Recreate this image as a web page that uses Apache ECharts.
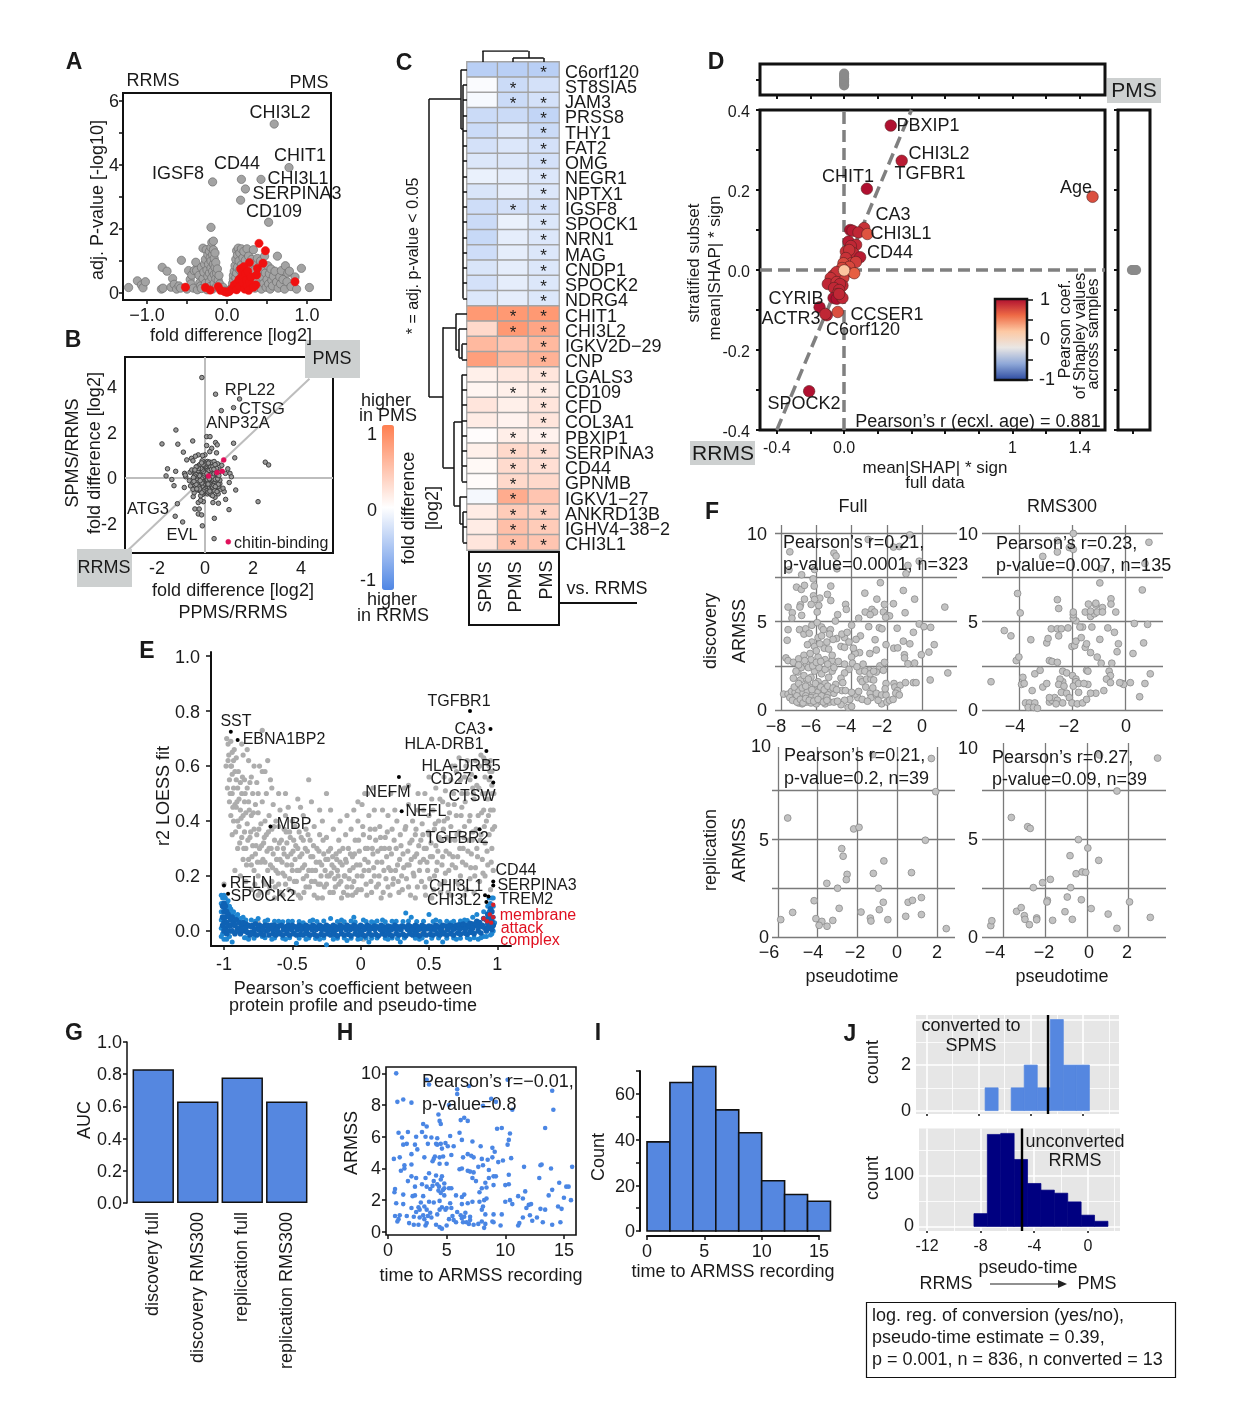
<!DOCTYPE html>
<html><head><meta charset="utf-8">
<style>html,body{margin:0;padding:0;background:#fff}#c{width:1240px;height:1406px}</style>
<script src="https://cdn.jsdelivr.net/npm/echarts@6/dist/echarts.min.js"></script></head>
<body><div id="c"></div>
<script>
// ---------- DATA ----------
const aGrey=[.59,5.28,.775,3.92,.425,3.55,.18,3.55,-.18,3.47,.23,3.25,.17,2.9,.52,2.21,-.2,2.05,
-1.23,.17,-1.12,.38,-1.07,.25,-1.05,.16,-1.02,.35,-.82,.12,-.81,.8,-.8,.15,-.75,.68,-.7,.18,-.68,.45,-.66,.27,-.63,.12,-.6,.22,-.58,.15,-.57,1.02,-.5,.12,-.48,.7,-.46,.42,-.45,.28,-.44,.56,-.42,.15,-.41,.7,-.39,.96,-.38,.7,-.37,.1,-.35,.55,-.34,.32,-.33,.22,-.32,.14,-.32,.8,-.3,1.4,-.3,.45,-.29,.65,-.28,.9,-.27,1.05,-.27,.3,-.26,1.35,-.25,.1,-.25,.72,-.24,.52,-.24,1.2,-.23,.9,-.22,1.3,-.22,.35,-.22,.62,-.21,1.1,-.21,.2,-.2,.78,-.2,1,-.2,1.42,-.19,.48,-.19,1.58,-.18,1.2,-.18,.68,-.18,.12,-.17,.9,-.17,1.35,-.17,1.62,-.16,.58,-.16,1.08,-.16,.3,-.15,.8,-.15,1.25,-.14,.45,-.14,.95,-.13,.62,-.13,.2,-.12,.75,-.11,.4,-.1,.55,-.09,.28,-.08,.15,-.06,.1,-.05,.18,-.03,.06,-.01,.04,.02,.05,.04,.1,.06,.16,.07,.3,.08,.42,.08,.55,.09,.68,.1,.85,.1,.22,.11,1.05,.11,.48,.12,.62,.12,1.32,.13,.8,.13,1.18,.14,1.4,.14,.3,.15,1,.16,.72,.16,1.25,.17,.45,.18,1.38,.18,.88,.19,.6,.2,1.1,.2,.2,.21,1.3,.22,.78,.23,1.02,.24,.4,.25,1.38,.26,.62,.27,1.15,.28,.22,.29,.85,.3,.5,.31,1.05,.32,.3,.33,1.35,.34,.7,.35,.15,.36,.95,.37,.42,.38,1.08,.39,.6,.4,.25,.41,.85,.42,1.0,.43,.12,.44,.5,.45,.72,.46,.3,.47,1.15,.48,.62,.49,.18,.5,.42,.51,.85,.52,.28,.53,.6,.54,.12,.55,.75,.56,.4,.57,.22,.58,.52,.6,.68,.62,.34,.63,1.15,.64,.15,.66,.5,.67,.28,.68,.7,.7,.42,.72,.12,.73,.85,.75,.35,.76,.62,.78,.68,.8,.2,.85,.5,.87,.12,.93,.77,1.03,.17];
const aRed=[.4,1.55,.48,1.32,.45,.93,.28,.95,.38,.77,.37,.56,.85,.35,-.52,.18,-.27,.17,-.21,.09,-.11,.2,-.08,.08,-.03,.04,0,.02,.03,.05,.06,.12,.09,.25,.12,.1,.13,.32,.15,.42,.16,.2,.17,.75,.19,.55,.2,.32,.21,.82,.22,.12,.23,.6,.24,.4,.25,.22,.26,.68,.27,.08,.28,.35,.3,.5,.36,.25,.33,.18];
const bGrey=[-.13,4.4,.44,3.67,1.44,3.46,1.19,3.08,.68,2.95,-1.21,2.1,-.51,1.62,-1.79,1.49,-1.13,1.48,-.9,1.13,1.19,1.52,.07,1.81,.21,1.81,.44,1.55,.51,1.45,.07,1.42,.28,1.3,.2,1.15,.48,1.1,1.24,.88,2.51,.69,2.65,.57,2.21,-1.04,1.28,-.53,-1.56,.4,-1.22,.29,-1.62,.09,-1.38,-.07,-1.29,-.34,-.86,-.42,-1.15,-1.13,-1.24,-1.68,-.93,-1.93,-.11,-2.1,.39,-1.77,.38,-2.66,1,-1.39,.86,-.94,.56,-1.11,.33,-1.08,1.01,-.2,1.04,.2,1.1,.05,-.49,-.82,-.42,-1.36,-.24,-1.36,-.28,-1.58,-.14,-1.62,-.07,-1.04,-.28,-1.08,-.18,-.98,-.76,.79,-.56,.86,-.5,.75,-.28,1.01,-.4,.95,0,1.01,-.1,.98,-.85,.2,-.8,.05,-.82,.12,-.65,-.12,-.6,-.35,-.62,.25,-.55,.35,.85,.2,.95,.4,.7,.55,.65,-.5,.8,-.6,.75,-.45,.42,-.85,.55,-.7,.28,-.75,
0,0,.05,.1,-.05,.08,.1,-.05,-.1,-.1,.15,.2,-.15,.22,.2,.05,-.2,.02,.25,-.15,-.25,-.18,.3,.15,-.3,.12,.35,.3,-.35,.05,.4,0,-.4,-.1,.45,.25,-.45,.2,.5,.1,-.5,-.2,.55,.05,.6,.35,.05,.35,-.05,.4,.1,.45,-.1,.5,.15,.55,-.15,.6,.2,.4,-.2,.45,.25,.5,-.25,.55,.3,.6,-.3,.4,.35,.55,-.35,.35,.4,.45,.05,.65,-.05,.7,.1,.72,-.12,.75,.18,.7,.28,.68,.38,.72,.52,.62,.48,.42,.58,.25,.05,-.3,-.05,-.35,.1,-.4,-.1,-.45,.15,-.5,-.15,-.3,.2,-.35,-.2,-.4,.25,-.45,-.25,-.55,.3,-.3,-.3,-.5,.35,-.4,-.35,-.3,.4,-.55,-.4,-.42,.05,-.6,-.05,-.65,.1,-.7,-.1,-.72,.15,-.62,-.18,-.78,.25,-.72,.32,-.78,.45,-.3,.55,-.38,.5,-.6,.62,-.25,-.45,-.65,-.5,-.5,.02,.2,-.02,-.2,.12,.1,-.12,.12,.18,-.08,-.18,-.1,.28,.02,-.28,.08,.32,-.05,-.32,-.02,.38,.12,.42,-.2,.48,-.1,-.38,-.22,-.42,.28,.08,.55,.62,-.1,.55,-.28,.22,.28,-.22,.3,.3,.42,-.28,.32,.12,.28,-.08,.25,.02,-.15,.08,-.22,-.02,.2,.16,-.28,-.14,-.32,
.03,.15,-.08,.03,.14,.02,-.14,-.04,.23,.12,-.23,.1,.33,.05,-.33,-.1,.38,.18,-.38,.15,.43,-.06,-.43,.08,.48,.18,-.48,.02,.53,-.04,.58,.1,.03,.25,-.03,.18,.07,.2,-.07,.28,.12,.38,-.12,.35,.17,.33,-.17,.42,.22,.48,-.22,.58,.27,.38,-.27,.42,.33,.5,-.33,.5,.37,.38,-.37,.48,.42,.58,-.42,.35,.03,.5,-.03,.55,.08,.62,-.08,.58,.14,.65,-.14,.66,.02,-.22,-.03,-.25,.07,-.3,-.07,-.3,.12,-.36,-.12,-.38,.17,-.43,-.17,-.22,.22,-.28,-.22,-.3,.27,-.36,-.27,-.38,.32,-.4,-.33,-.22,.37,-.33,-.37,-.28,.43,-.38,-.46,-.15,.03,-.48,-.03,-.52,.08,-.56,-.08,-.58,.13,-.62,-.13,-.65,.2,-.58,-.22,-.48,-.34,-.48,.1,-.08,-.1,-.18,.13,-.27,-.13,-.22,.18,-.04,-.2,-.12];
const bPink=[.97,-2.8,.78,.79,.72,.29,.5,.24,.15,.08];
const geneRows=['C6orf120','ST8SIA5','JAM3','PRSS8','THY1','FAT2','OMG','NEGR1','NPTX1','IGSF8','SPOCK1','NRN1','MAG','CNDP1','SPOCK2','NDRG4','CHIT1','CHI3L2','IGKV2D−29','CNP','LGALS3','CD109','CFD','COL3A1','PBXIP1','SERPINA3','CD44','GPNMB','IGKV1−27','ANKRD13B','IGHV4−38−2','CHI3L1'];
const heatCols=['SPMS','PPMS','PMS'];
const heatSPMS=[-.4,-.03,-.05,-.3,-.3,-.25,-.2,-.12,-.22,-.28,-.3,-.32,-.28,-.22,-.25,-.2,.8,.3,.55,.75,.12,.08,.2,.15,.02,.12,.05,.03,-.06,.15,.15,.2];
const heatPPMS=[-.4,-.3,-.3,-.3,-.2,-.2,-.2,-.15,-.15,-.25,-.12,-.15,-.15,-.15,-.15,-.15,.8,.8,.45,.55,.18,.12,.12,.1,.13,.3,.28,.3,.65,.4,.5,.5];
const heatPMS=[-.4,-.25,-.25,-.35,-.3,-.25,-.25,-.2,-.2,-.25,-.2,-.2,-.2,-.2,-.2,-.2,.8,.7,.55,.6,.2,.15,.2,.2,.1,.25,.25,.3,.45,.35,.4,.45];
const starPPMS=['ST8SIA5','JAM3','IGSF8','CHIT1','CHI3L2','CD109','PBXIP1','SERPINA3','CD44','GPNMB','IGKV1−27','ANKRD13B','IGHV4−38−2','CHI3L1'];
const noStarPMS=['ST8SIA5','GPNMB','IGKV1−27'];
// dendrogram segments: [height0,row0,height1,row1]
const rowTree=[[38,2.43,38,21.97],[38,2.43,6,2.43],[6,.5,6,4.4],[6,.5,0,.5],[6,4.4,4,4.4],[4,1.5,4,15.5],[4,1.5,0,1.5],[4,2.5,0,2.5],[4,3.5,0,3.5],[4,4.5,0,4.5],[4,5.5,0,5.5],[4,6.5,0,6.5],[4,7.5,0,7.5],[4,8.5,0,8.5],[4,9.5,0,9.5],[4,10.5,0,10.5],[4,11.5,0,11.5],[4,12.5,0,12.5],[4,13.5,0,13.5],[4,14.5,0,14.5],[4,15.5,0,15.5],[38,21.97,24,21.97],[24,17.4,24,26.6],[24,17.4,11,17.4],[11,16.5,11,18.9],[11,16.5,0,16.5],[11,18.9,8,18.9],[8,17.5,8,19.4],[8,17.5,0,17.5],[8,19.4,5,19.4],[5,18.5,5,19.5],[5,18.5,0,18.5],[5,19.5,0,19.5],[24,26.6,13,26.6],[13,23.6,13,29.1],[13,23.6,5,23.6],[5,20.5,5,26.5],[5,20.5,0,20.5],[5,21.5,0,21.5],[5,22.5,0,22.5],[5,23.5,0,23.5],[5,24.5,0,24.5],[5,25.5,0,25.5],[5,26.5,0,26.5],[5,27.5,0,27.5],[5,26.5,5,27.5],[13,29.1,7,29.1],[7,28.5,7,30.3],[7,28.5,0,28.5],[7,30.3,4,30.3],[4,29.5,4,31.5],[4,29.5,0,29.5],[4,30.5,0,30.5],[4,31.5,0,31.5]];
const colTree=[[.5,0,.5,11],[.5,11,2,11],[2,11,2,4],[1.5,4,2.5,4],[1.5,4,1.5,0],[2.5,4,2.5,0]];
const dPoints=[[.277,.361,1],[.342,.273,.95],[.135,.203,1],[1.476,.183,.72],[-.208,-.303,1],[.036,.1,1],[.05,.098,.95],[.119,.105,.85],[.085,.094,.9],[.138,.09,.7],[.026,.071,.95],[.071,.063,.9],[.04,.06,.9],[.01,.046,.85],[.055,.042,.9],[.03,.05,.85],[.095,.032,.95],[.01,.03,.85],[.045,.017,.8],[.07,.02,.8],[-.004,.017,.75],[.03,.008,.75],[-.012,.005,.75],[.015,-.005,.8],[.06,-.008,.65],[-.063,-.013,.85],[-.03,-.015,.85],[-.005,-.02,.8],[-.045,-.005,.85],[-.08,-.02,.85],[-.097,-.035,.9],[-.01,-.039,.9],[-.045,-.03,.85],[-.025,-.035,.9],[-.06,-.045,.9],[-.03,-.05,.9],[-.04,-.06,.85],[-.063,-.07,1],[-.044,-.072,1],[-.01,-.07,.9],[-.03,-.06,.9],[-.146,-.093,1],[-.103,-.113,.95],[-.112,-.11,.9],[-.038,-.105,.72],[0,-.001,.22]];
const dTop=[-1,-.8,-.6,-.4,-.2,0,.2,.4,.6,.8,1];
const dRight=[-1,-.6,-.2,.2,.6,1];
const eGrey=[-1,.17,-.98,.7,-.97,.68,-.97,.62,-.96,.55,-.96,.47,-.95,.69,-.95,.6,-.95,.42,-.94,.65,-.94,.57,-.94,.5,-.94,.35,-.93,.62,-.93,.52,-.93,.4,-.92,.58,-.92,.46,-.92,.22,-.91,.63,-.91,.55,-.91,.45,-.9,.52,-.9,.3,-.9,.4,-.89,.48,-.89,.38,-.88,.54,-.88,.44,-.88,.2,-.87,.5,-.87,.34,-.86,.64,-.86,.42,-.86,.26,-.85,.55,-.85,.47,-.85,.36,-.84,.43,-.84,.3,-.84,.18,-.83,.66,-.83,.52,-.83,.39,-.82,.62,-.82,.47,-.82,.26,-.81,.54,-.81,.34,-.8,.42,-.8,.24,-.8,.15,-.79,.5,-.79,.31,-.78,.37,-.78,.22,-.77,.46,-.77,.28,-.76,.54,-.76,.35,-.75,.43,-.75,.2,-.75,.13,-.74,.6,-.74,.3,-.73,.39,-.73,.25,-.72,.73,-.72,.58,-.72,.47,-.71,.32,-.71,.18,-.7,.4,-.7,.25,-.69,.5,-.69,.35,-.68,.22,-.68,.14,-.67,.42,-.67,.3,-.66,.55,-.66,.24,-.65,.37,-.65,.18,-.64,.46,-.64,.28,-.63,.33,-.63,.12,-.62,.4,-.62,.22,-.61,.3,-.6,.38,-.6,.17,-.59,.44,-.59,.26,-.58,.33,-.57,.21,-.57,.13,-.56,.37,-.56,.28,-.55,.42,-.55,.17,-.54,.32,-.54,.24,-.53,.45,-.52,.36,-.52,.19,-.51,.28,-.5,.4,-.5,.22,-.49,.33,-.49,.14,-.48,.38,-.48,.26,-.47,.18,-.46,.3,-.45,.36,-.45,.22,-.44,.45,-.44,.12,-.43,.28,-.42,.33,-.42,.19,-.41,.24,-.4,.37,-.4,.16,-.39,.29,-.38,.55,-.38,.22,-.37,.33,-.36,.18,-.35,.27,-.34,.38,-.34,.13,-.33,.22,-.32,.3,-.31,.17,-.3,.35,-.3,.25,-.29,.2,-.28,.4,-.28,.12,-.27,.28,-.26,.22,-.25,.34,-.25,.17,-.24,.26,-.23,.2,-.22,.44,-.22,.3,-.21,.24,-.2,.37,-.2,.14,-.19,.19,-.18,.28,-.17,.22,-.16,.33,-.16,.17,-.15,.4,-.15,.25,-.14,.12,-.13,.3,-.12,.2,-.11,.35,-.11,.26,-.1,.42,-.1,.16,-.09,.3,-.08,.22,-.07,.37,-.06,.27,-.06,.13,-.05,.44,-.05,.18,-.04,.33,-.03,.24,-.02,.4,-.02,.15,-.01,.29,.01,.46,.01,.2,.02,.35,.03,.26,.03,.5,.04,.17,.05,.3,.06,.42,.06,.22,.07,.37,.08,.14,.09,.28,.1,.44,.1,.2,.11,.33,.12,.25,.13,.17,.14,.38,.15,.3,.15,.12,.16,.44,.17,.22,.18,.34,.19,.27,.2,.42,.2,.16,.21,.3,.22,.22,.23,.37,.24,.19,.25,.44,.26,.3,.27,.24,.28,.14,.29,.35,.3,.2,.31,.28,.32,.52,.33,.38,.34,.24,.35,.46,.35,.16,.36,.32,.37,.26,.38,.4,.39,.2,.4,.35,.4,.12,.41,.28,.42,.44,.43,.22,.44,.33,.45,.39,.46,.26,.47,.5,.47,.16,.48,.3,.49,.22,.5,.42,.5,.35,.51,.27,.52,.12,.53,.44,.54,.37,.54,.2,.55,.31,.56,.25,.57,.4,.58,.48,.58,.17,.59,.33,.6,.27,.61,.56,.61,.4,.62,.21,.63,.34,.64,.46,.64,.14,.65,.28,.66,.38,.67,.6,.67,.24,.68,.5,.69,.33,.7,.18,.7,.42,.71,.27,.72,.36,.73,.55,.73,.2,.74,.45,.75,.3,.76,.38,.76,.13,.77,.6,.77,.24,.78,.5,.79,.33,.8,.42,.8,.19,.81,.57,.81,.28,.82,.36,.83,.48,.83,.14,.84,.62,.84,.23,.85,.53,.85,.3,.86,.42,.87,.6,.87,.18,.88,.35,.89,.5,.89,.26,.9,.63,.9,.44,.91,.56,.91,.32,.91,.2,.92,.4,.93,.61,.93,.48,.93,.24,.94,.55,.94,.35,.95,.44,.95,.62,.95,.15,.96,.5,.96,.3,.96,.58,.97,.44,.97,.22,.98,.38,-.75,.03,-.72,.0,-.6,-.005,-.28,.01,-.15,.03,.02,-.03,.36,-.01,.45,-.01,.6,.0,
-.985,.6,-.975,.52,-.965,.64,-.955,.5,-.945,.6,-.935,.45,-.925,.66,-.915,.36,-.905,.47,-.895,.58,-.885,.32,-.875,.41,-.865,.56,-.855,.3,-.845,.5,-.835,.24,-.825,.33,-.815,.44,-.805,.36,-.795,.27,-.785,.43,-.775,.17,-.765,.31,-.755,.25,-.745,.37,-.735,.14,-.725,.31,-.715,.26,-.705,.34,-.695,.17,-.685,.29,-.675,.36,-.665,.16,-.655,.3,-.645,.23,-.635,.38,-.625,.16,-.615,.26,-.605,.21,-.595,.32,-.585,.14,-.575,.25,-.565,.3,-.555,.2,-.545,.36,-.535,.27,-.525,.15,-.515,.34,-.505,.24,-.495,.29,-.485,.18,-.475,.31,-.465,.22,-.455,.13,-.445,.27,-.435,.34,-.425,.23,-.415,.14,-.405,.3,-.395,.2,-.385,.35,-.375,.16,-.365,.27,-.355,.22,-.345,.31,-.335,.18,-.325,.25,-.315,.12,-.305,.29,-.295,.17,-.285,.24,-.275,.33,-.265,.16,-.255,.26,-.245,.2,-.235,.29,-.225,.14,-.215,.21,-.205,.27,-.195,.23,-.185,.16,-.175,.26,-.165,.2,-.155,.29,-.145,.18,-.135,.24,-.125,.14,-.115,.2,-.105,.25,-.095,.13,-.085,.19,-.075,.28,-.065,.16,-.055,.23,-.045,.28,-.035,.14,-.025,.2,-.015,.33,-.005,.24,.005,.15,.015,.38,.025,.22,.035,.3,.045,.13,.055,.25,.065,.34,.075,.18,.085,.3,.095,.23,.105,.37,.115,.16,.125,.29,.135,.2,.145,.34,.155,.25,.165,.14,.175,.3,.185,.19,.195,.36,.205,.23,.215,.13,.225,.28,.235,.17,.245,.33,.255,.22,.265,.4,.275,.18,.285,.26,.295,.31,.305,.15,.315,.23,.325,.37,.335,.19,.345,.29,.355,.24,.365,.13,.375,.33,.385,.21,.395,.27,.405,.37,.415,.16,.425,.31,.435,.25,.445,.18,.455,.35,.465,.3,.475,.13,.485,.25,.495,.36,.505,.19,.515,.32,.525,.27,.535,.15,.545,.39,.555,.22,.565,.29,.575,.34,.585,.14,.595,.24,.605,.37,.615,.18,.625,.29,.635,.41,.645,.22,.655,.33,.665,.13,.675,.27,.685,.46,.695,.23,.705,.35,.715,.17,.725,.3,.735,.42,.745,.25,.755,.34,.765,.47,.775,.15,.785,.29,.795,.4,.805,.23,.815,.33,.825,.5,.835,.2,.845,.37,.855,.27,.865,.52,.875,.33,.885,.43,.895,.21,.905,.38,.915,.5,.925,.29,.935,.42,.945,.58,.955,.25,.965,.37,.975,.5,
.05,.5,.09,.52,-.02,.47,.22,.5,.35,.53,.42,.5,.5,.56,.55,.52,.62,.51,.66,.55,.7,.58,.74,.5,.76,.56,.78,.62,.8,.55,.82,.52,.86,.6,.88,.64,.91,.62,.94,.6,.96,.53,.72,.63,.69,.6,.6,.47,.65,.43,.52,.48,.46,.44,-.3,.44,-.36,.47,-.25,.5,-.42,.42,-.46,.48,-.6,.5,-.55,.5,-.65,.52,-.7,.58,-.68,.62,-.78,.6,-.8,.56,-.75,.5,-.87,.68];
const eBlueEdge=[-1.02,.13,-1.02,.1,-1.01,.12,-1,.13,-1.02,.07,-1.02,.04,-1.02,.01,-1.01,-.01,-1.02,-.02,-1,-.03,-.99,.12,-.98,.1,-.97,.11,-.98,-.03,-.96,.09,-.95,.08,-.96,-.02,-.94,-.04,-.93,.07,-.92,.05,-.9,.06,-.89,.04,-.86,.05,-.85,-.025,-.82,-.03,-.8,.04,-.75,.045,-.72,-.02,-.68,.04,-.65,-.03,-.6,.035,-.55,-.03,-.5,.035,-.47,-.045,-.42,.03,-.4,-.03,-.35,.04,-.3,-.03,-.25,-.05,-.22,.045,-.2,-.03,-.14,.04,-.1,-.035,-.05,.05,-.02,-.03,.02,.04,.06,-.04,.1,.03,.14,-.06,.16,.04,.2,-.03,.26,.035,.29,-.04,.33,.065,.37,.05,.43,-.03,.48,-.04,.5,.06,.55,.04,.6,-.04,.66,.03,.7,-.03,.76,.04,.8,-.03,.82,.05,.85,.06,.86,-.03,.9,.07,.92,-.02,.94,.12,.95,.1,.96,.12,.97,.12,.97,.09,.97,.05,.98,.03,.97,.0,.96,-.01,.95,-.015,.93,.09,.94,.07,
-.98,.085,-.96,.075,-.94,.065,-.91,.055,-.88,.045,-.84,.04,-.77,.035,-.7,.035,-.63,.035,-.57,.033,-.53,.035,-.45,.034,-.37,.035,-.32,.034,-.27,.036,-.17,.034,-.12,.033,-.07,.036,-.04,.032,.04,.034,.08,.033,.12,.036,.18,.033,.23,.035,.31,.034,.35,.036,.41,.034,.46,.035,.53,.034,.58,.034,.63,.035,.68,.035,.73,.036,.78,.038,-.84,-.025,-.78,-.027,-.7,-.025,-.63,-.026,-.57,-.027,-.52,-.025,-.45,-.027,-.38,-.026,-.33,-.028,-.27,-.026,-.17,-.027,-.12,-.026,-.07,-.027,0,-.028,.04,-.026,.08,-.027,.12,-.026,.18,-.027,.23,-.026,.27,-.028,.32,-.026,.4,-.027,.45,-.026,.52,-.027,.57,-.026,.63,-.027,.68,-.026,.73,-.027,.78,-.025,.83,-.025,.88,-.025,.9,-.02];
const eBlue=[-1.01,.09,-1,.1,-1,.07,-.99,.09,-.99,.05,-.98,.07,-1.01,.05,-1.01,.02,-1,.03,-1,.0,-.99,.01,-.98,.03,-.98,-.01,-.97,.06,-.97,.02,-.96,.05,-.96,.0,-.95,.04,-.95,.02,-.94,.05,-.94,.0,-.93,.03,-.92,.02,-.92,-.01,-.91,.04,-.9,.01,-.89,.03,-.88,-.01,-.87,.02,-.86,.03,-.85,0,-.84,.025,-.83,-.005,-.82,.02,-.81,-.015,-.8,.015,-.79,.02,-.78,-.01,-.77,.025,-.76,-.015,-.75,.01,-.74,.02,-.73,-.01,-.72,.015,-.71,-.015,-.7,.02,-.69,0,-.68,.02,-.67,-.015,-.66,.01,-.65,.02,-.64,-.01,-.63,.02,-.62,-.015,-.61,.01,-.6,.018,-.59,-.01,-.58,.02,-.57,-.015,-.56,.005,-.55,.015,-.54,-.01,-.53,.02,-.52,-.015,-.51,.01,-.5,.02,-.49,-.01,-.48,.015,-.47,-.015,-.46,.01,-.45,.02,-.44,-.012,-.43,.015,-.42,-.015,-.41,.008,-.4,.02,-.39,-.01,-.38,.015,-.37,-.015,-.36,.01,-.35,.02,-.34,-.012,-.33,.015,-.32,-.018,-.31,.01,-.3,.02,-.29,-.012,-.28,.015,-.27,-.015,-.26,.01,-.25,.02,-.24,-.01,-.23,.015,-.22,-.015,-.21,.008,-.2,.02,-.19,-.012,-.18,.015,-.17,-.018,-.16,.01,-.15,.02,-.14,-.01,-.13,.015,-.12,-.015,-.11,.01,-.1,.02,-.09,-.012,-.08,.015,-.07,-.018,-.06,.01,-.05,.02,-.04,-.01,-.03,.015,-.02,-.015,-.01,.01,0,.02,.01,-.012,.02,.015,.03,-.018,.04,.008,.05,.02,.06,-.01,.07,.015,.08,-.015,.09,.01,.1,.018,.11,-.012,.12,.015,.13,-.018,.14,.01,.15,.02,.16,-.01,.17,.015,.18,-.015,.19,.008,.2,.018,.21,-.012,.22,.015,.23,-.018,.24,.01,.25,.02,.26,-.01,.27,.015,.28,-.015,.29,.01,.3,.018,.31,-.012,.32,.015,.33,-.018,.34,.008,.35,.02,.36,-.01,.37,.015,.38,-.015,.39,.01,.4,.02,.41,-.012,.42,.015,.43,-.018,.44,.01,.45,.02,.46,-.01,.47,.015,.48,-.015,.49,.008,.5,.018,.51,-.012,.52,.015,.53,-.015,.54,.01,.55,.02,.56,-.01,.57,.015,.58,-.015,.59,.01,.6,.02,.61,-.01,.62,.018,.63,-.015,.64,.01,.65,.02,.66,-.01,.67,.018,.68,-.015,.69,.01,.7,.02,.71,-.008,.72,.022,.73,-.012,.74,.012,.75,.025,.76,-.008,.77,.02,.78,-.012,.79,.015,.8,.028,.81,-.005,.82,.025,.83,-.01,.84,.02,.85,.035,.86,0,.87,.03,.88,-.008,.89,.02,.9,.045,.91,.01,.92,.04,.92,.0,.93,.06,.93,.025,.94,.045,.94,.01,.95,.08,.95,.05,.95,.02,.96,.07,.96,.035,.96,.005,.97,.02,
-.9,.0,-.8,-.005,-.6,-.005,-.4,-.005,-.2,-.005,0,-.005,.2,-.005,.4,-.005,.6,-.005,.8,-.002,-.87,.005,-.84,.01,-.775,.005,-.745,.004,-.715,.005,-.675,.004,-.645,.006,-.615,.004,-.565,.005,-.535,.004,-.505,.005,-.465,.004,-.435,.005,-.395,.005,-.355,.004,-.325,.005,-.285,.004,-.255,.005,-.225,.004,-.175,.005,-.145,.005,-.105,.004,-.075,.005,-.035,.004,.025,.005,.065,.004,.105,.005,.145,.004,.175,.005,.225,.004,.265,.005,.295,.004,.345,.005,.375,.004,.425,.005,.465,.004,.515,.005,.545,.004,.585,.005,.635,.004,.675,.005,.725,.006,.765,.006,.82,.01,.86,.015,.89,.015];
const eComplement=[.9,.045,.925,.035,.955,.03,.945,.06,.97,.05,.97,.095];
const eBlack=[-.95,.725,-.9,.695,-.66,.38,-1,.165,-.97,.135,.28,.56,.3,.435,.8,.8,.95,.735,.92,.655,.95,.56,.97,.54,.84,.56,.87,.37,.97,.18,.97,.165,.91,.13,.935,.125,.92,.105];
const f1Pts=[-7.5,8.96,-7.55,7.94,-5,8.89,-4.88,8.72,-4.83,8,-6.1,7.96,-3.06,9.66,-1.63,9.23,-1.3,9.26,-.7,9.92,-.17,8.43,-.81,8.19,-.92,7.72,-6.83,7.66,-6.18,7.43,-7.12,6.96,-6.85,6.83,-6.67,7.06,-6.12,7.02,-5.18,7.02,-5.37,6.55,-5.18,6.2,-6.16,6.47,-5.8,6.34,-6.1,6.26,-6.67,6.28,-6.9,5.96,-6.93,5.83,-7.6,5.83,-7.36,5.51,-7.38,5.2,-6.83,5.36,-6.29,5.98,-5.86,5.92,-5.95,5.55,-4.79,5.4,-4.34,5.98,-4.3,5.7,-4.92,5.04,-3.25,6.62,-2.37,7.21,-1.07,6.77,-.43,6.28,-2.57,6.28,-2.14,5.98,-1.63,6.02,1.28,5.83,-3.23,5.55,-2.85,5.7,-2.7,5.55,-2.95,5.4,-2.2,5.55,-1.98,5.35,-1.85,5.33,-2.07,5.25,-3.6,5.2,-.97,5.51,-4,4.8,-3.03,4.72,-2.43,4.66,-2.28,4.6,-1.42,4.63,-.17,4.87,.1,4.72,.48,4.68,-.5,4.4,-1.07,3.9,-.7,3.75,.68,3.7,.38,3.28,-.05,3.13,-1.01,3.13,-1,2.95,-.81,2.62,-.43,2.66,-1.61,3.5,-1.39,3.52,-2.05,3.7,-2.67,3.98,-3.5,4.2,-3.75,4,-3.55,3.25,-3.8,3.2,-4,3,-2.97,3.2,-2.6,3.4,-2.4,2.5,-2.14,2.7,-7.72,2.95,-7.6,2.8,-7.3,2.7,-7,2.9,-6.7,3.1,-6.3,2.85,-5.9,3,-5.5,2.85,-5.1,2.8,-4.75,2.75,-4.4,2.6,-3.95,2.65,-7.6,4.55,-7.65,3.95,-6.95,4.55,-6.7,4.3,-6.6,4.6,-6.25,4.8,-5.95,4.95,-5.7,4.7,-5.6,4.55,-5.2,4.55,-5.25,4.3,-4.85,4.05,-4.4,4.1,-4.6,3.6,-4.4,3.55,-5.55,3.5,-5.3,3.45,-6.25,3.85,-6.1,3.6,-6,3.35,-5.9,4.1,-5.7,4.2,-6.4,4.35,-3,2.25,-2.45,2.3,-2.2,2.25,-3.55,2.2,-3.25,2.2,-4.15,2.3,-4.4,2.1,-4.6,1.8,-4.5,1.55,-4.55,1.1,-4.35,1.1,-3.5,1.75,-3.4,1.6,-3.15,1.75,-2.9,1.75,-2.75,1.7,-2.6,2.15,-2.05,1.5,-1.6,1.5,-1.55,1.3,-1.25,1.4,-1.4,1.1,-1.5,.95,-1.3,.85,-.95,1.55,-.5,1.55,-.35,1.55,.45,1.7,1.45,2.1,-2.95,.95,-2.9,.7,-2.6,.85,-2.6,.95,-2.3,.85,-2.05,.85,-2.3,.35,-2,.45,-1.85,.55,-1.65,.6,-3.65,.7,-3.4,.6,-3.8,.9,-3.6,1.05,-4,1,-4.1,.6,-4.4,.55,-4.6,.3,-4.2,.15,-4,.2,-7.85,.9,-7.6,.9,-7.4,1.05,-7.2,1,-7,1.1,-6.75,.95,-6.5,1.05,-6.2,.95,-5.9,1.05,-5.6,1.1,-5.3,.95,-5,.95,-7.5,.7,-7.2,.6,-7,.4,-6.8,.35,-6.55,.45,-6.3,.4,-6,.35,-5.75,.5,-5.5,.35,-5.25,.45,-5,.45,-4.8,.5,-7.3,1.8,-7.05,2.15,-6.9,1.7,-6.7,1.95,-6.5,1.55,-6.3,1.85,-6.1,2.2,-5.9,1.6,-5.7,2.05,-5.5,1.5,-5.3,1.85,-5.1,2.2,-4.9,1.45,-6.85,2.4,-6.55,2.6,-5.85,2.4,-5.5,2.3,-5.2,1.2,-6.15,1.3,-5.85,1.35,-6.6,.8,-6.3,.7,-6,.75,-5.7,.8,-5.4,.7,-7.1,.8,
-7.35,.55,-7.1,.45,-6.9,.6,-6.75,.4,-6.6,.65,-6.4,.55,-6.15,.5,-5.9,.6,-5.6,.45,-5.4,.55,-7.25,1.3,-7,1.5,-6.8,1.25,-6.6,1.35,-6.45,1.75,-6.25,1.15,-6.05,1.5,-5.75,1.3,-5.55,1.15,-5.35,1.35,-5.05,1.25,-4.85,1.15,-6.65,2.8,-6.45,2.4,-6.2,2.5,-6,2.7,-5.75,2.75,-5.35,2.6,-5,2.4,-5.1,3.1,-6.5,3.7,-6.35,3.2,-5.8,3.75,-5.4,3.85,-5.05,4,-4.55,4.3,-4.25,4.4,-4.15,3.85,-3.9,3.5,-7,2.55,-7.15,2.2,-3.7,2.45,-3.35,2.6,-2.95,2.05,-2.75,2.2,-3.2,1.3,-2.8,1.25,-2.5,.55,-2.1,1.2,-3.1,.5];
const f2Pts=[-5.05,1.6,-4.55,4.5,-4.3,4.2,-4.1,2.8,-4,3,-3.85,1.85,-3.9,1.45,-3.8,1.5,-4.05,6.6,-3.95,5.5,-3.5,1.1,-3.75,.4,-3.6,.4,-3.4,.4,-3.65,.15,-3.45,.15,-3.3,.1,-3.55,3.98,-3.4,2.05,-3.2,2.25,-3.1,1.3,-2.95,1.5,-2.85,.45,-2.75,.55,-2.65,.7,-2.55,.55,-2.95,3.8,-2.9,4.05,-2.78,4.6,-2.55,4.6,-2.4,4.6,-2.5,4.2,-2.85,2.8,-2.75,2.75,-2.55,2.7,-2.35,2.2,-2.2,2.1,-2.35,1.6,-2.45,1.75,-2.5,1.45,-2.3,1.35,-2.4,1,-2.2,.95,-2.1,.7,-2,.4,-1.8,.35,-2.35,.4,-2.6,.35,-2.85,.7,-1.6,.4,-1.45,.6,-1.98,1.95,-1.85,1.75,-1.85,1.6,-1.95,1.35,-1.75,1,-1.75,1.5,-2,3.6,-1.9,3.65,-2.15,4.65,-1.85,3.9,-1.65,4.1,-1.5,3.55,-1.3,3.25,-1.05,3,-.9,2.65,-.5,2.65,-.6,2.2,-.55,1.95,-.7,1.75,-.55,1.55,-.8,1.1,-1.1,.95,-1.3,.95,-1.4,1.45,-1.55,1.5,-1.45,2.25,-1.4,2.2,-1.85,5.05,-1.95,5.2,-1.95,5.4,-1.95,5.55,-1.5,5.55,-1.3,5.3,-1.15,5.45,-1.3,5.6,-1.05,5.55,-1.1,5.95,-.85,5.8,-.85,5.55,-1.38,6,-1.1,6.05,-.53,6.3,-.53,6,-.35,5.55,-.65,4.65,-.4,4.4,-.25,3.75,-.3,3.3,-.95,4,-1.45,3.75,-1.6,4.7,-1.25,4.7,-1.7,4.7,-2.55,6.25,-2.5,5.75,.35,4.9,.85,4.85,.7,3.8,.3,3.2,.65,6.8,.95,2.05,.75,1.5,-.1,1.5,.55,.75,-.05,1.45,.2,1.55,-.2,1.55,.75,8.3,-.9,8,-.95,7.2,.9,9.5,-2.55,9.6,-2.1,9.2,-1.95,10,-1.95,9.1,-2.55,8.95,-3.1,8.7];
const f3Pts=[-5.86,.89,-5.51,6.1,-5.26,1.26,-4.18,1.86,-4.09,.94,-3.79,.8,-3.93,.6,-3.53,.55,-3.24,.85,-3.54,2.75,-3,2.5,-2.92,1.47,-2.79,4.53,-2.72,4.14,-2.52,3.21,-2.56,2.94,-2.19,5.54,-1.92,5.62,-1.82,1.28,-1.35,.97,-1.32,.82,-1.2,3.26,-.94,2.5,-.9,1.4,-.7,1.78,-.67,3.9,-.47,.89,-1.24,9.35,.43,1.06,.55,1.78,.77,1.88,.72,3.3,1.22,2.02,1.22,1.15,1.42,4.96,1.72,9.15,1.94,7.45,2.47,.43];
const f4Pts=[-4.58,.58,-4.53,.83,-3.6,6.1,-3.35,1.31,-3.13,1.5,-2.98,1.09,-2.95,.9,-2.74,.63,-2.82,5.63,-2.7,5.54,-2.55,2.52,-2.39,.97,-2.39,.88,-2.11,2.77,-1.88,1.87,-1.9,1.79,-1.74,2.94,-1.63,.85,-1.04,1.29,-.93,2.04,-.8,4.15,-.77,2.52,-.69,.9,-.51,3.23,-.4,4.97,-.22,3.32,-.26,1.9,-.05,3.3,.05,4.54,.21,1.45,.57,3.91,.61,9.29,1.02,1.17,1.44,7.45,1.44,.44,2.04,1.79,3.03,1,3.38,9.13];
const gCats=['discovery full','discovery RMS300','replication full','replication RMS300'];
const gAUC=[.83,.63,.78,.63];
const hPts=[.7,10,3.3,9.6,3.5,9.3,5.9,9,5.9,8.7,6.9,9.2,10.2,9.6,14,8.9,.8,8.2,1.3,8.35,2,8.15,5.2,8,8.1,7.95,8.8,8.4,9.2,8.2,14.1,7.7,10.6,7.7,4.3,7.4,4.4,7,4.5,6.8,6.2,7.05,6.5,7.2,6.8,7,3,6.8,3.3,6.65,9.3,6.5,9.7,6.55,13.4,6.55,.9,6.25,1.7,6.3,2.9,6.3,3.2,6,2.4,6,3.7,5.95,4.2,5.9,5.3,6.05,6.1,6.25,6.3,5.8,10.4,6.2,10.3,5.8,1.2,5.95,1.3,5.5,1.6,5.55,3.4,5.55,4.1,5.55,4.5,5.55,4.9,5.6,5.1,5.4,5.6,5.4,7.2,5.7,7.9,5.4,8.9,5.3,9.1,5.05,10.2,5.5,2.5,5.2,1,4.7,.5,4.6,2,4.9,2,4.25,3.1,4.7,4,4.75,4.4,4.7,4.7,4.75,5.4,4.85,5,4.3,4.4,4.3,3.8,4.45,6.8,4.9,7.1,4.8,7.3,4.7,8,4.6,8.5,4.55,8.9,4.7,9.4,4.4,9.8,4.5,10.5,4.65,1.4,4.2,1.4,4,1.1,3.85,2.4,3.4,1.7,3.2,2,3.5,3.5,3.7,4.1,3.55,4.6,3.5,6.1,3.95,6.3,4,6.8,3.85,7,3.8,7.2,3.4,7.3,3.75,8.1,4.2,8.6,3.9,8.6,3.4,9,3.5,9.2,3.5,10.3,3.6,11.6,4.1,13,4.2,13.1,4.25,13.9,4,15.7,4.1,12.9,3.4,14.6,3.1,2.3,2.85,2.9,3,3.3,2.85,3.8,2.9,4.2,3,4.3,2.6,4.7,2.65,4.5,3.3,5.2,2.75,5.4,2.75,6.5,2.35,8,2.75,8.4,2.8,9,2.95,10,2.95,10.3,3,15.2,2.85,15.4,2.85,14,2.65,13.7,2.3,11.7,2.55,.6,2.7,.55,2.5,1.3,2.35,2.3,2.3,2.1,2.25,3,2.25,4.8,2.3,5.8,2.3,6.3,2.2,.7,1.8,1.3,1.75,2,1.5,2.8,1.85,3.1,1.6,3.5,1.9,3.9,1.85,4.4,1.95,5,1.5,5.3,1.8,5.4,1.5,6.3,1.75,6.8,1.8,7.2,1.9,8.2,2,8.4,2.1,10,1.9,10.4,2,10.6,1.75,11.1,2.25,11.5,2.1,12,1.7,12.2,1.75,13,1.45,13.4,1.4,14.5,1.6,15,2.15,15.6,2,14.8,1.45,2.7,1.4,2.4,1.25,3,1.05,3.4,1,4.2,1.1,5.5,1,7,.95,8.3,1.1,9,1.1,9.7,1.1,11.5,.9,11.8,1.5,12.1,1.05,12.7,.9,.6,1,1,1.05,1.6,1,2.2,.95,2.7,.9,3.1,.8,3.7,.9,5.2,.8,5.6,.75,6.3,.85,6.5,.95,7,.75,8,.65,8.9,.65,12.3,.7,13.2,.6,14,.45,14.7,.6,11.2,.55,11.1,.4,.8,.65,1.8,.55,2.2,.45,2.6,.45,3.2,.4,4.1,.45,4.4,.3,4.6,.2,5,.4,6.4,.6,6.7,.6,7.3,.45,7.7,.5,8.2,.25,8.3,.5,9,.6,9.6,.4,
2.6,1.55,3.3,1.4,3.6,1.2,4.6,1.55,4.9,1.4,5.9,1.25,6.6,1.2,6.2,1.05,7.8,1.9,8.1,1.6,8,1.4,.9,.8,3.3,.55,5.8,.6,6.9,.5,4.4,1.4,3.6,2.7,3.9,3.2,4.35,2.85,4.8,2.75,4.5,2.45,3.2,3.4,3.9,4.6,4.8,3.05,4.2,5.5,4.6,5.25,2.3,5.5,7.5,3.2,7.8,2.5,8.3,3.1,6.4,4.7,7.7,4.1];
const iEdges=[0,2,4,6,8,10,12,14,16];
const iCounts=[39,65,72,53,43,22,16,13];
const j1Edges=[-7.5,-6.5,-5.5,-4.5,-3.5,-2.5,-1.5,-.5,.5];
const j1Counts=[1,0,1,2,1,4,2,2];
const j2Edges=[-8.5,-7.5,-6.5,-5.5,-4.5,-3.5,-2.5,-1.5,-.5,.5,1.5];
const j2Counts=[25,180,182,131,84,71,65,48,22,10];

// ---------- HELPERS ----------
const FF='"Liberation Sans",Arial,sans-serif', INK='#1a1a1a';
const pairs=a=>{const o=[];for(let i=0;i<a.length;i+=2)o.push([a[i],a[i+1]]);return o};
const grid=[],xAxis=[],yAxis=[],series=[],els=[];
const minus=s=>String(s).replace('-','−');
function ax(o,i){const lab={show:!!o.labels,customValues:o.labels||[],formatter:o.fmt||(v=>String(v)),fontSize:o.fs||18,color:INK,fontFamily:FF,margin:o.m||5};
 if(o.down){lab.verticalAlign='top';lab.lineHeight=o.down*2}
 return {type:'value',gridIndex:i,min:o.min,max:o.max,inverse:!!o.inv,offset:o.off||0,
 axisLine:{show:!!o.line,onZero:false,lineStyle:{color:'#111',width:o.lw||2}},
 axisTick:{show:!!o.ticks,customValues:o.ticks||[],length:o.tl||4,lineStyle:{color:'#111',width:o.tw||1.5}},
 axisLabel:lab,splitLine:{show:false},splitArea:{show:false}}}
function panel(b,xo,yo,g){const i=grid.length;
 grid.push(Object.assign({left:b[0],top:b[1],width:b[2]-b[0],height:b[3]-b[1],containLabel:false,show:false},g||{}));
 xAxis.push(ax(xo,i));yAxis.push(ax(yo,i));return i}
const frame=w=>({show:true,borderColor:'#111',borderWidth:w||2,backgroundColor:'transparent'});
function dots(i,data,size,color,border,bw,z){series.push({type:'scatter',xAxisIndex:i,yAxisIndex:i,data,symbolSize:size,z:z||2,silent:true,animation:false,
 itemStyle:{color,opacity:1,borderColor:border||color,borderWidth:border?(bw||.8):0}})}
function rules(i,lines,style,z){series.push({type:'scatter',xAxisIndex:i,yAxisIndex:i,data:[],silent:true,
 markLine:{silent:true,symbol:'none',animation:false,z:z||1,label:{show:false},lineStyle:style,data:lines}})}
const vLines=a=>a.map(v=>({xAxis:v})), hLines=a=>a.map(v=>({yAxis:v}));
function hist(i,edges,counts,fill,stroke){const d=counts.map((c,k)=>[edges[k],edges[k+1],c]).filter(r=>r[2]>0);
 series.push({type:'custom',xAxisIndex:i,yAxisIndex:i,data:d,z:2,silent:true,clip:false,encode:{x:[0,1],y:2},
  renderItem:(p,api)=>{const a=api.coord([api.value(0),0]),b=api.coord([api.value(1),api.value(2)]);
   return {type:'rect',shape:{x:a[0],y:b[1],width:b[0]-a[0],height:a[1]-b[1]},style:{fill,stroke:stroke||fill,lineWidth:stroke?1.6:.7}}}})}
function T(x,y,s,size,o){o=o||{};els.push({type:'text',x:x+(o.r?1:0),y:y+(o.r?0:1.5),rotation:o.r?Math.PI/2:0,z:50,silent:true,
 style:{text:s,fill:o.c||INK,font:(o.b?'bold ':'')+(size||18)+'px '+FF,align:o.a||'center',verticalAlign:'middle'}})}
function R(x,y,w,h,fill,stroke,lw,z){els.push({type:'rect',z:z||40,silent:true,shape:{x,y,width:w,height:h},style:{fill:fill||'transparent',stroke:stroke||'none',lineWidth:lw||0}})}
function L(x1,y1,x2,y2,lw,c){els.push({type:'line',z:45,silent:true,shape:{x1,y1,x2,y2},style:{stroke:c||'#111',lineWidth:lw||1.5}})}
[['A',74,61],['B',73,339],['C',404,62],['D',716,61],['E',147,650],['F',712,511],['G',74,1032],['H',345,1032],['I',598,1032],['J',850,1033]].forEach(p=>T(p[1],p[2],p[0],23,{b:1}));

// ---------- A ----------
const iA=panel([123,93,331,300],{min:-1.3,max:1.3,ticks:[-1,-.5,0,.5,1],labels:[-1,0,1],fmt:v=>minus(v.toFixed(1)),m:7},
 {min:-.22,max:6.25,ticks:[0,1,2,3,4,5,6],labels:[0,2,4,6],m:4,down:1.5},frame(2));
dots(iA,pairs(aGrey),8.3,'#a3a3a3','#6e6e6e',.7);dots(iA,pairs(aRed),8.3,'#f01010','#f01010',.5,3);
[['RRMS',153,80],['PMS',309,82],['CHI3L2',280,112],['CD44',237,163],['IGSF8',178,173],['CHIT1',300,155],['CHI3L1',298,178],['SERPINA3',297,193],['CD109',274,211]].forEach(p=>T(p[1],p[2],p[0]));
T(97,200,'adj. P-value [-log10]',18,{r:1});T(231,335,'fold difference [log2]');

// ---------- B ----------
const iB=panel([125,357,333,553],{min:-3.33,max:5.33,labels:[-2,0,2,4],m:7},{min:-3.29,max:5.3,labels:[-2,0,2,4],m:8,down:1.5},frame(2));
rules(iB,vLines([0]).concat(hLines([0])),{color:'#bdbdbd',width:2,type:'solid'});
rules(iB,[[{coord:[-3.33,-3.29]},{coord:[4.35,4.35]}]],{color:'#bdbdbd',width:2,type:'solid'});
dots(iB,pairs(bGrey),4.5,'#9a9a9a','#404040',1);dots(iB,pairs(bPink),5,'#e0105a','#e0105a',.5,3);
R(305,340,55,38,'#cdd0d0');T(332,358,'PMS');R(77,549,55,38,'#cdd0d0');T(104,567,'RRMS');
[['RPL22',250,389],['CTSG',262,408],['ANP32A',238,422],['ATG3',148,508],['EVL',182,534]].forEach(p=>T(p[1],p[2],p[0],16.5));
T(234,542,'chitin-binding',16,{a:'left'});
T(233,590,'fold difference [log2]');T(233,612,'PPMS/RRMS');
T(72,453,'SPMS/RRMS',18,{r:1});T(94,453,'fold difference [log2]',18,{r:1});

// ---------- C ----------
const iC=grid.length;
grid.push({left:467,top:62,width:92,height:488,show:false});
xAxis.push({type:'category',gridIndex:iC,data:heatCols,axisLine:{show:false},axisTick:{show:false},axisLabel:{show:false},splitLine:{show:false}});
yAxis.push({type:'category',gridIndex:iC,data:geneRows,inverse:true,position:'right',axisLine:{show:false},axisTick:{show:false},
 axisLabel:{interval:0,fontSize:18,fontFamily:FF,color:INK,margin:6,verticalAlign:'top',lineHeight:6},splitLine:{show:false}});
const heatData=[];
geneRows.forEach((g,r)=>{heatData.push([0,r,heatSPMS[r],'']);
 heatData.push([1,r,heatPPMS[r],starPPMS.includes(g)?'*':'']);
 heatData.push([2,r,heatPMS[r],noStarPMS.includes(g)?'':'*'])});
const heatIdx=series.length;
series.push({type:'heatmap',xAxisIndex:iC,yAxisIndex:iC,data:heatData,silent:true,z:2,
 itemStyle:{borderColor:'#a3a3a3',borderWidth:1.3},
 label:{show:true,formatter:p=>p.data[3],fontSize:17,color:'#222',fontFamily:FF,offset:[0,4]},emphasis:{disabled:true}});
const iRT=panel([429,62,467,550],{min:0,max:38,inv:true},{min:0,max:32,inv:true});
series.push({type:'lines',coordinateSystem:'cartesian2d',xAxisIndex:iRT,yAxisIndex:iRT,silent:true,z:3,lineStyle:{color:'#111',width:1.5,opacity:1},
 data:rowTree.map(s=>({coords:[[s[0],s[1]],[s[2],s[3]]]}))});
const iCT=panel([467,51,559,62],{min:0,max:3},{min:0,max:11});
series.push({type:'lines',coordinateSystem:'cartesian2d',xAxisIndex:iCT,yAxisIndex:iCT,silent:true,z:3,lineStyle:{color:'#111',width:1.5,opacity:1},
 data:colTree.map(s=>({coords:[[s[0],s[1]],[s[2],s[3]]]}))});
R(469,552,90,73,null,'#111',2);
T(485,587,'SPMS',18,{r:1});T(515,587,'PPMS',18,{r:1});T(546,580,'PMS',18,{r:1});
T(607,588,'vs. RRMS');L(559,603,637,603,2);
T(413,256,'* = adj. p-value < 0.05',16,{r:1});
T(386,400,'higher');T(388,415,'in PMS');T(372,434,'1');T(372,510,'0');T(368,580,'-1');
T(408,508,'fold difference',18,{r:1});T(432,508,'[log2]',18,{r:1});
T(392,599,'higher');T(393,615,'in RRMS');

// ---------- D ----------
const iD=panel([760,110,1105,430],{min:-.5,max:1.55,ticks:[-.4,-.2,0,.2,.4,.6,.8,1,1.2,1.4],labels:[-.4,0,1,1.4],fmt:v=>v===0?'0.0':String(v),fs:16,m:11,tw:2},
 {min:-.4,max:.4,ticks:[-.4,-.3,-.2,-.1,0,.1,.2,.3,.4],labels:[-.4,-.2,0,.2,.4],fmt:v=>v.toFixed(1),fs:16,m:10,tw:2,down:2.5},frame(3));
const dash={color:'#808080',width:3.5,type:[12,6]};
rules(iD,vLines([0]).concat(hLines([0])),dash);
rules(iD,[[{coord:[-.4,-.4]},{coord:[.4,.4]}]],dash);
const dIdx=series.length;
series.push({type:'scatter',xAxisIndex:iD,yAxisIndex:iD,data:dPoints,symbolSize:11.5,z:3,silent:true,itemStyle:{borderColor:'#5a2020',borderWidth:.6,opacity:1}});
const iDT=panel([760,64,1105,95],{min:-.5,max:1.55,ticks:[-.4,-.2,0,.2,.4,.6,.8,1,1.2,1.4],tw:2},{min:-3,max:3,ticks:[0],tw:2},frame(3));
dots(iDT,dTop.map(v=>[0,v*1.15]),10,'#8a8a8a');
const iDR=panel([1118,110,1150,430],{min:-1.5,max:1.5,ticks:[-.1],tw:2},{min:-.4,max:.4,ticks:[-.4,-.3,-.2,-.1,0,.1,.2,.3,.4],tw:2},frame(3));
dots(iDR,dRight.map(v=>[v*.2,0]),10,'#8a8a8a');
R(1107,78,54,25,'#cdd0d0');T(1134,90,'PMS',21);R(690,441,65,24,'#cdd0d0');T(723,453,'RRMS',21);
[['PBXIP1',928,125],['CHI3L2',939,153],['TGFBR1',930,173],['CHIT1',848,176],['Age',1076,187],['CA3',893,214],['CHI3L1',901,233],['CD44',890,252],['CYRIB',796,298],['ACTR3',791,318],['CCSER1',887,314],['C6orf120',863,329],['SPOCK2',804,403]].forEach(p=>T(p[1],p[2],p[0]));
T(978,421,'Pearson’s r (ecxl. age) = 0.881',18);
T(693,263,'stratified subset',17,{r:1});T(714,268,'mean|SHAP| * sign',17,{r:1});
T(935,467,'mean|SHAP| * sign',17);T(935,482,'full data',17);
R(995,299,32,81,null,'#111',2.5);
[300,320,340,360,380].forEach(y=>L(1027,y,1033,y,1.5));
T(1045,299,'1',18);T(1045,339,'0',18);T(1047,379,'-1',18);
T(1065,329,'Pearson coef.',16,{r:1});T(1080,336,'of Shapley values',16,{r:1});T(1093,334,'across samples',16,{r:1});

// ---------- E ----------
const iE=panel([211,652,511,946],{min:-1.095,max:1.1,line:1,ticks:[-1,-.5,0,.5,1],labels:[-1,-.5,0,.5,1],m:10},
 {min:-.055,max:1.015,line:1,tl:5,ticks:[0,.2,.4,.6,.8,1],labels:[0,.2,.4,.6,.8,1],fmt:v=>v.toFixed(1),m:11,down:1.5});
dots(iE,pairs(eGrey),5.2,'#adadad');dots(iE,pairs(eBlueEdge),5,'#1f86d2',null,0,3);dots(iE,pairs(eBlue),5.6,'#0f62b4',null,0,3);
dots(iE,pairs(eComplement),4.4,'#d8202a',null,0,4);dots(iE,pairs(eBlack),4,'#000',null,0,5);
[['TGFBR1',459,700],['CA3',470,728],['HLA-DRB1',444,743],['HLA-DRB5',461,765],['CD27',451,778],['CTSW',472,795],['NEFM',388,791],['NEFL',426,810],['MBP',294,823],['TGFBR2',457,837],['SST',236,720],['EBNA1BP2',284,738],['RELN',251,882],['SPOCK2',263,895],['CD44',516,869],['CHI3L1',456,885],['SERPINA3',537,884],['CHI3L2',454,899],['TREM2',526,898]].forEach(p=>T(p[1],p[2],p[0],16));
T(538,914,'membrane',16,{c:'#e01020'});T(522,927,'attack',16,{c:'#e01020'});T(530,939,'complex',16,{c:'#e01020'});
T(163,796,'r2 LOESS fit',18,{r:1});T(353,988,'Pearson’s coefficient between');T(353,1005,'protein profile and pseudo-time');

// ---------- F ----------
const f1X=[-8,-6,-4,-2,0],f2X=[-4,-2,0],f3X=[-6,-4,-2,0,2],f4X=[-4,-2,0,2],fY=[0,2.5,5,7.5,10],fYL=[0,5,10];
function fPanel(b,xmin,xmax,ymax,xs,pts,ls,xpos,ly){
 const i=panel(b,{min:xmin,max:xmax},{min:0,max:ymax,labels:fYL,m:ls,down:1.5});
 rules(i,vLines(xs).concat(hLines(fY)),{color:'#7a7a7a',width:1.3,type:'solid'});
 dots(i,pairs(pts),6.8,'#c2c2c2','#8c8c8c',.8);
 xs.forEach((v,k)=>T(xpos[k],ly,minus(v)));}
fPanel([775,525,957,710],-8.34,1.97,10.48,f1X,f1Pts,8,[776,811,846,882,922],726);
fPanel([982,525,1163,710],-5.39,1.43,10.48,f2X,f2Pts,4,[1015,1069,1126],726);
fPanel([772,747,955,937],-6.3,2.91,9.74,f3X,f3Pts,3,[769,813,855,897,937],952);
fPanel([982,743,1166,937],-5,3.78,9.9,f4X,f4Pts,4,[995,1044,1089,1127],952);
T(761,746,'10');T(968,748,'10');
T(853,506,'Full');T(1062,506,'RMS300');
T(710,631,'discovery',18,{r:1});T(739,631,'ARMSS',18,{r:1});T(710,850,'replication',18,{r:1});T(739,850,'ARMSS',18,{r:1});
T(783,542,'Pearson’s r=0.21,',18,{a:'left'});T(783,564,'p-value=0.0001, n=323',18,{a:'left'});
T(996,543,'Pearson’s r=0.23,',18,{a:'left'});T(996,565,'p-value=0.007, n=135',18,{a:'left'});
T(784,755,'Pearson’s r=0.21,',18,{a:'left'});T(784,778,'p-value=0.2, n=39',18,{a:'left'});
T(992,757,'Pearson’s r=0.27,',18,{a:'left'});T(992,779,'p-value=0.09, n=39',18,{a:'left'});
T(852,976,'pseudotime');T(1062,976,'pseudotime');

// ---------- G ----------
const iG=grid.length;
grid.push({left:131,top:1042,width:178,height:161,show:false});
xAxis.push({type:'category',gridIndex:iG,data:gCats,axisLine:{show:false},axisTick:{show:false},splitLine:{show:false},
 axisLabel:{interval:0,rotate:90,fontSize:18,fontFamily:FF,color:INK,margin:9}});
yAxis.push(ax({min:0,max:1,off:4,line:1,lw:1.5,ticks:[0,.2,.4,.6,.8,1],labels:[0,.2,.4,.6,.8,1],fmt:v=>v.toFixed(1),m:5,down:1},iG));
series.push({type:'bar',xAxisIndex:iG,yAxisIndex:iG,data:gAUC,barWidth:'93%',silent:true,itemStyle:{color:'#5587e0',borderColor:'#111',borderWidth:1.5}});
T(84,1120,'AUC',18,{r:1});

// ---------- H ----------
const iH=panel([386,1067,576,1235],{min:-.17,max:16.03,ticks:[0,5,10,15],labels:[0,5,10,15],m:7},{min:-.2,max:10.4,ticks:[0,2,4,6,8,10],labels:[0,2,4,6,8,10],m:5,down:1},frame(1.6));
dots(iH,pairs(hPts),4.6,'#4a86e4');
T(351,1143,'ARMSS',18,{r:1});T(481,1275,'time to ARMSS recording');
T(422,1081,'Pearson’s r=−0.01,',18,{a:'left'});T(422,1104,'p-value=0.8',18,{a:'left'});

// ---------- I ----------
const iI=panel([647,1071,819,1231],{min:0,max:15,off:5,line:1,ticks:[0,5,10,15],labels:[0,5,10,15],m:7},{min:0,max:70,off:7,line:1,ticks:[0,10,20,30,40,50,60,70],labels:[0,20,40,60],m:5,down:1.5});
hist(iI,iEdges,iCounts,'#5587e0','#111');
T(598,1157,'Count',18,{r:1});T(733,1271,'time to ARMSS recording');

// ---------- J ----------
const jMajor=[-12,-8,-4,0],jMinor=[-10,-6,-2,2];
const grey={show:true,backgroundColor:'#e6e6e6',borderWidth:0};
const iJ1=panel([916,1015,1119,1114],{min:-12.8,max:2.77,ticks:[-12,-8,-4,0],tl:2},{min:-.15,max:4.2,labels:[0,2],m:5},grey);
rules(iJ1,vLines(jMajor).concat(hLines([0,2,4])),{color:'#fff',width:1.6,type:'solid'});
rules(iJ1,vLines(jMinor).concat(hLines([1,3])),{color:'#fff',width:.8,type:'solid'});
hist(iJ1,j1Edges,j1Counts,'#5587e0');
rules(iJ1,vLines([-2.7]),{color:'#000',width:2.4,type:'solid'},6);
const iJ2=panel([919,1128.5,1120,1231],{min:-12.6,max:2.4,ticks:[-12,-8,-4,0],tl:2,labels:[-12,-8,-4,0],m:8,fs:16},{min:-9,max:191.6,labels:[0,100],m:5},grey);
rules(iJ2,vLines(jMajor).concat(hLines([0,100])),{color:'#fff',width:1.6,type:'solid'});
rules(iJ2,vLines(jMinor).concat(hLines([50,150])),{color:'#fff',width:.8,type:'solid'});
hist(iJ2,j2Edges,j2Counts,'#000080');
rules(iJ2,vLines([-4.9]),{color:'#000',width:2.4,type:'solid'},6);
T(872,1062,'count',18,{r:1});T(872,1178,'count',18,{r:1});
T(971,1025,'converted to');T(971,1045,'SPMS');T(1075,1141,'unconverted');T(1075,1160,'RRMS');
T(1028,1267,'pseudo-time');T(946,1283,'RRMS');T(1097,1283,'PMS');
L(990,1284,1060,1284,1.2,'#222');
els.push({type:'polygon',z:45,silent:true,shape:{points:[[1067,1284],[1058,1280],[1058,1288]]},style:{fill:'#222'}});
R(866.5,1302.5,309,75,'#fff','#111',1.2,30);
T(872,1315,'log. reg. of conversion (yes/no),',18,{a:'left'});T(872,1337,'pseudo-time estimate = 0.39,',18,{a:'left'});T(872,1359,'p = 0.001, n = 836, n converted = 13',18,{a:'left'});

// ---------- RENDER ----------
const chart=echarts.init(document.getElementById('c'),null,{renderer:'canvas'});
chart.setOption({animation:false,backgroundColor:'#fff',textStyle:{fontFamily:FF},
 tooltip:{show:false},grid,xAxis,yAxis,series,graphic:{elements:els},
 visualMap:[
 {type:'continuous',seriesIndex:heatIdx,dimension:2,min:-1,max:1,left:382,top:425,itemWidth:12,itemHeight:165,padding:0,showLabel:false,text:null,calculable:false,hoverLink:false,
  inRange:{color:['#4f86e4','#a8c3f2','#ffffff','#ffbfa8','#ff7f50']}},
 {type:'continuous',seriesIndex:dIdx,dimension:2,min:-1,max:1,left:995,top:299,itemWidth:32,itemHeight:81,padding:0,showLabel:false,text:null,calculable:false,hoverLink:false,
  inRange:{color:['#2c4aa0','#8fa8d8','#e9e6e4','#fdc9a4','#ee6a45','#b01030']}}]});
</script></body></html>
